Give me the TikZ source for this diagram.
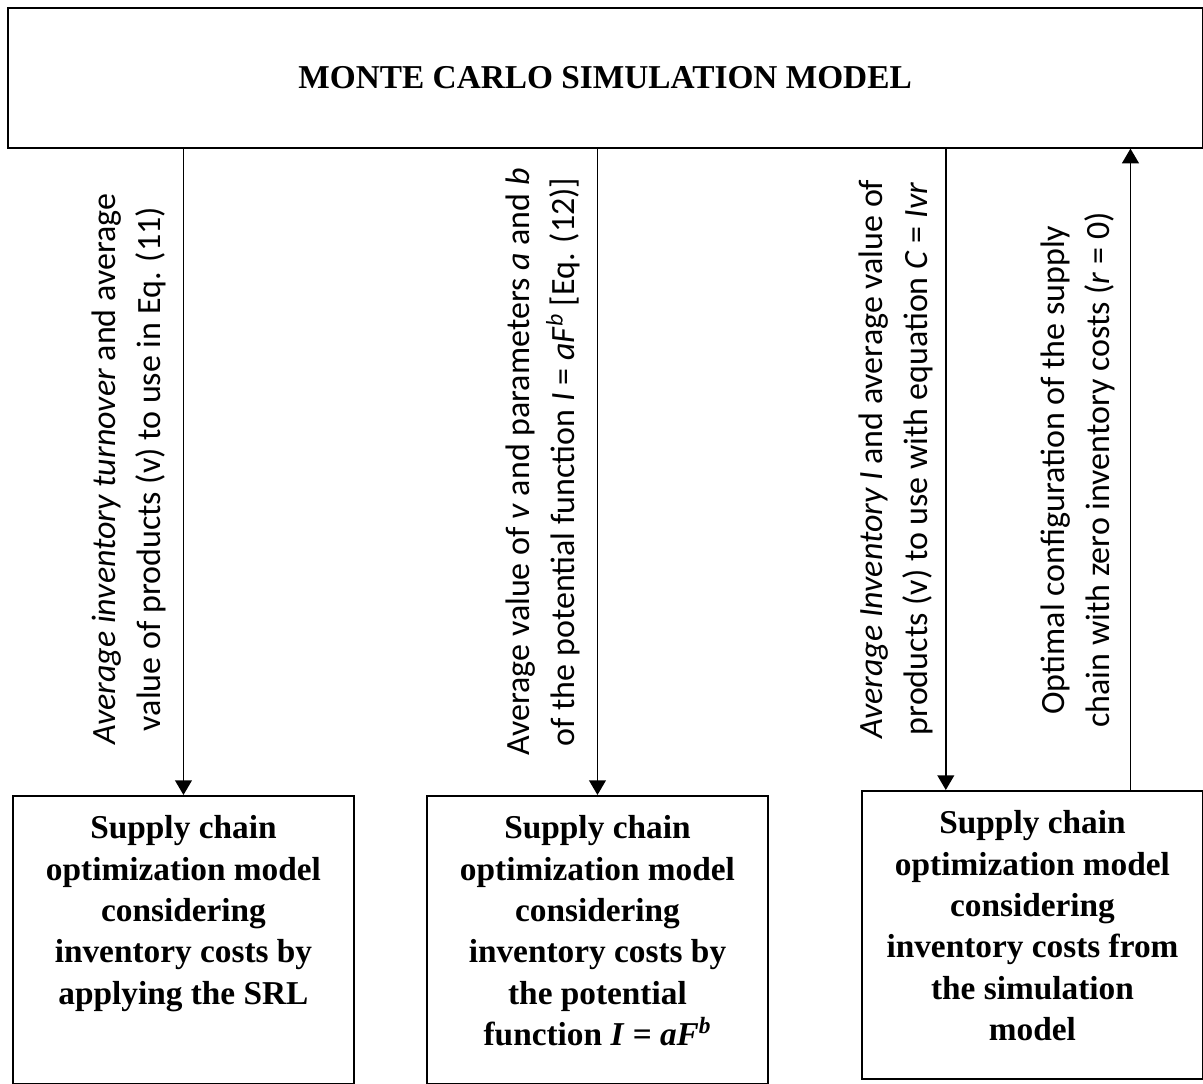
\documentclass[tikz,border=0pt]{standalone}
\usepackage{fontspec}
\setmainfont{Liberation Serif}
\newfontfamily\labelfont{Carlito}
\usetikzlibrary{arrows.meta}

\newcommand{\modeltext}[1]{\parbox[c][216pt][t]{256pt}{\fontsize{25}{31}\bfseries\selectfont\centering\vspace*{15pt}#1}}

\begin{document}
\begin{tikzpicture}[x=0.75pt,y=0.75pt,yscale=-1,xscale=1,
  modelbox/.style={draw,line width=1.2pt,anchor=north west,inner sep=0pt},
  flow/.style={draw,line width=1.4pt,-{Triangle[width=12.5pt,length=11pt]}},
  flowlabel/.style={rotate=90,align=center,inner sep=0pt,font=\labelfont\fontsize{25.5}{34}\selectfont}]

\useasboundingbox (0,0) rectangle (1203,1084);

\node [modelbox,minimum width=896pt,minimum height=105pt] (mcs) at (7,7) {\fontsize{25}{29}\bfseries\selectfont MONTE CARLO SIMULATION MODEL};

\node [modelbox] (srl) at (12,795) {\modeltext{Supply chain\\optimization model\\considering\\inventory costs by\\applying the SRL}};
\node [modelbox] (pot) at (426,795) {\modeltext{Supply chain\\optimization model\\considering\\inventory costs by\\the potential\\function \textit{I} = \textit{aF}\textsuperscript{\textit{b}}}};
\node [modelbox] (sim) at (861,790) {\modeltext{Supply chain\\optimization model\\considering\\inventory costs from\\the simulation\\model}};

\coordinate (simin) at ([xshift=-65pt]sim.north);
\coordinate (simout) at ([xshift=73.5pt]sim.north);

\draw [flow] (mcs.south -| srl.north) -- (srl.north);
\draw [flow] (mcs.south -| pot.north) -- (pot.north);
\draw [flow] (mcs.south -| simin) -- (simin);
\draw [flow] (simout) -- (mcs.south -| simout);

\node [flowlabel] (turnover) at (129,469) {\textit{Average inventory turnover} and average\\value of products (v) to use in Eq. (11)};
\node [flowlabel] (params) at (543,462) {Average value of \textit{v} and parameters \textit{a} and \textit{b}\\of the potential function \textit{I} = \textit{aF}\textsuperscript{\textit{b}} [Eq. (12)]};
\node [flowlabel] (avginv) at (896,459) {\textit{Average Inventory I} and average value of\\products (v) to use with equation \textit{C} = \textit{Ivr}};
\node [flowlabel] (optimal) at (1078,470) {Optimal configuration of the supply\\chain with zero inventory costs (\textit{r} = 0)};

\end{tikzpicture}
\end{document}
